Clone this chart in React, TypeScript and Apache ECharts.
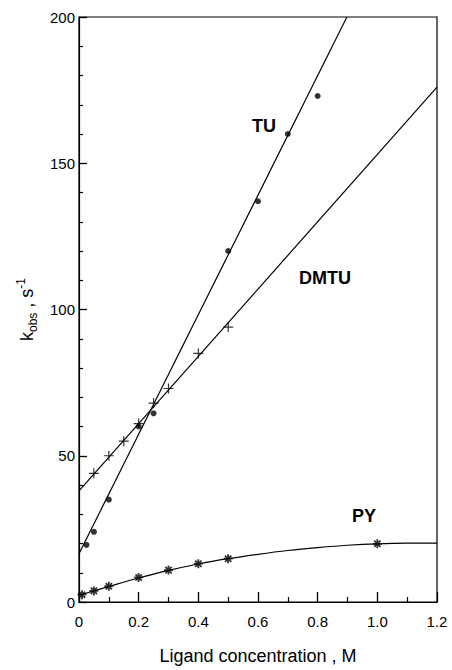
import React, { useEffect, useRef } from "react";
import * as echarts from "echarts";

// Data
const TU_X = [0.025, 0.05, 0.1, 0.2, 0.25, 0.5, 0.6, 0.7, 0.8];
const TU_Y = [19.5, 24, 35, 60, 64.5, 120, 137, 160, 173];
const TU_FIT_X = [0, 0.898];
const TU_FIT_Y = [16.5, 200];

const DMTU_X = [0.05, 0.1, 0.15, 0.2, 0.25, 0.3, 0.4, 0.5];
const DMTU_Y = [44, 50, 55, 61, 68, 73, 85, 94];
const DMTU_FIT_X = [0, 1.2];
const DMTU_FIT_Y = [38, 176];

const PY_X = [0.01, 0.05, 0.1, 0.2, 0.3, 0.4, 0.5, 1.0];
const PY_Y = [2.5, 3.8, 5.4, 8.4, 10.9, 13.1, 14.8, 19.9];
const PY_FIT_X = [0, 0.1, 0.2, 0.3, 0.4, 0.5, 0.6, 0.7, 0.8, 0.9, 1.0, 1.1, 1.2];
const PY_FIT_Y = [2.3, 5.3, 8.2, 10.8, 13, 14.8, 16.3, 17.6, 18.6, 19.4, 19.9, 20.1, 20.1];

const X_MIN = 0;
const X_MAX = 1.2;
const X_STEP = 0.2;
const Y_MIN = 0;
const Y_MAX = 200;
const Y_STEP = 50;

const SERIES_LABELS = ["TU", "DMTU", "PY"];

const FONT = "'Liberation Sans', Arial, Helvetica, sans-serif";

const zip = (xs: number[], ys: number[]) => xs.map((x, i) => [x, ys[i]]);

const PLUS = "path://M0,5L10,5M5,0L5,10";
const STAR = "path://M0,5L10,5M5,0L5,10M1.5,1.5L8.5,8.5M8.5,1.5L1.5,8.5";

export default function App() {
  const ref = useRef<HTMLDivElement>(null);

  useEffect(() => {
    if (!ref.current) return;
    const chart = echarts.init(ref.current, undefined, { renderer: "svg" });
    const lineStyle = { color: "#000", width: 1.2 };
    const fitLine = (name: string, xs: number[], ys: number[], smooth = false) => ({
      name,
      type: "line",
      data: zip(xs, ys),
      showSymbol: false,
      symbol: "none",
      smooth: smooth ? 0.4 : false,
      lineStyle,
      z: 2,
    });
    chart.setOption({
      animation: false,
      backgroundColor: "#fff",
      grid: {
        left: 79,
        right: 15,
        top: 17,
        bottom: 64,
        show: true,
        borderColor: "#000",
        borderWidth: 1.2,
        backgroundColor: "transparent",
      },
      xAxis: {
        type: "value",
        min: X_MIN,
        max: X_MAX,
        interval: X_STEP,
        name: "Ligand concentration , M",
        nameLocation: "middle",
        nameGap: 45,
        nameTextStyle: { fontFamily: FONT, fontSize: 18, color: "#000" },
        axisLine: { show: true, lineStyle: { color: "#000", width: 1.2 } },
        axisTick: { show: true, inside: true, length: 10, lineStyle: { color: "#000", width: 1.3 } },
        minorTick: { show: true, splitNumber: 2, length: 5, lineStyle: { color: "#000", width: 1.2 } },
        splitLine: { show: false },
        minorSplitLine: { show: false },
        axisLabel: {
          margin: 12,
          fontFamily: FONT,
          fontSize: 15,
          color: "#000",
          formatter: (v: number) => (v === 0 ? "0" : v.toFixed(1)),
        },
      },
      yAxis: {
        type: "value",
        min: Y_MIN,
        max: Y_MAX,
        interval: Y_STEP,
        name: "{k|k}{sub|obs}{k| , s}{sup|-1}",
        nameLocation: "middle",
        nameGap: 40,
        nameRotate: 90,
        nameTextStyle: {
          fontFamily: FONT,
          color: "#000",
          rich: {
            k: { fontFamily: FONT, fontSize: 18, lineHeight: 24, color: "#000" },
            sub: { fontFamily: FONT, fontSize: 12, lineHeight: 12, verticalAlign: "bottom", color: "#000" },
            sup: { fontFamily: FONT, fontSize: 12, lineHeight: 12, verticalAlign: "top", color: "#000" },
          },
        },
        axisLine: { show: true, lineStyle: { color: "#000", width: 1.2 } },
        axisTick: { show: true, inside: true, length: 8, lineStyle: { color: "#000", width: 1.3 } },
        minorTick: { show: true, splitNumber: 5, length: 4, lineStyle: { color: "#000", width: 1.2 } },
        splitLine: { show: false },
        minorSplitLine: { show: false },
        axisLabel: { margin: 4, fontFamily: FONT, fontSize: 15, color: "#000" },
      },
      series: [
        fitLine("TU fit", TU_FIT_X, TU_FIT_Y),
        fitLine("DMTU fit", DMTU_FIT_X, DMTU_FIT_Y),
        fitLine("PY fit", PY_FIT_X, PY_FIT_Y, true),
        {
          name: SERIES_LABELS[0],
          type: "scatter",
          data: zip(TU_X, TU_Y),
          symbol: "circle",
          symbolSize: 6,
          itemStyle: { color: "#000" },
          z: 3,
        },
        {
          name: SERIES_LABELS[1],
          type: "scatter",
          data: zip(DMTU_X, DMTU_Y),
          symbol: PLUS,
          symbolSize: 10,
          itemStyle: { color: "#000", borderColor: "#000", borderWidth: 1.2 },
          z: 3,
        },
        {
          name: SERIES_LABELS[2],
          type: "scatter",
          data: zip(PY_X, PY_Y),
          symbol: STAR,
          symbolSize: 9,
          itemStyle: { color: "#000", borderColor: "#000", borderWidth: 1.8 },
          z: 3,
        },
      ],
      graphic: [
        {
          type: "text",
          left: 252,
          top: 117,
          style: { text: SERIES_LABELS[0], fontFamily: FONT, fontSize: 18, fontWeight: "bold", fill: "#000" },
        },
        {
          type: "text",
          left: 299,
          top: 269,
          style: { text: SERIES_LABELS[1], fontFamily: FONT, fontSize: 18, fontWeight: "bold", fill: "#000" },
        },
        {
          type: "text",
          left: 352,
          top: 507,
          style: { text: SERIES_LABELS[2], fontFamily: FONT, fontSize: 18, fontWeight: "bold", fill: "#000" },
        },
      ],
    });
    return () => chart.dispose();
  }, []);

  return (
    <div
      ref={ref}
      style={{ position: "absolute", left: 0, top: 0, width: 452, height: 670, background: "#fff" }}
    />
  );
}
